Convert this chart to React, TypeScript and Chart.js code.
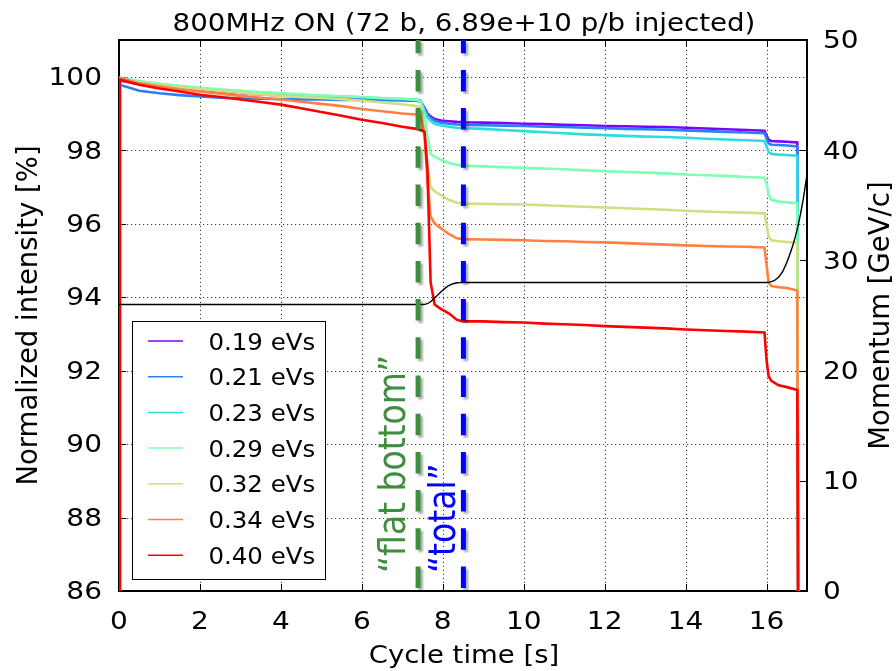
import React, { useEffect, useRef } from 'react';
import { Chart, registerables } from 'chart.js';

Chart.register(...registerables);

// ---------- text ----------
const chartTitle = '800MHz ON (72 b, 6.89e+10 p/b injected)';
const xAxisTitle = 'Cycle time [s]';
const yAxisTitle = 'Normalized intensity [%]';
const y2AxisTitle = 'Momentum [GeV/c]';
const flatBottomLabel = '\u201Cflat bottom\u201D';
const totalLabel = '\u201Ctotal\u201D';

// ---------- ticks ----------
const xTicks = [0, 2, 4, 6, 8, 10, 12, 14, 16];
const yTicks = [86, 88, 90, 92, 94, 96, 98, 100];
const y2Ticks = [0, 10, 20, 30, 40, 50];

// ---------- series ----------
const seriesLabels = ['0.19 eVs', '0.21 eVs', '0.23 eVs', '0.29 eVs', '0.32 eVs', '0.34 eVs', '0.40 eVs'];
const seriesColors = ['#8000ff', '#2a80f6', '#2addde', '#80ffb4', '#d4dd80', '#ff8042', '#ff0000'];

const times = [
  0, 0.02, 0.5, 1, 1.5, 2, 2.5, 3, 3.5, 4, 4.5, 5, 5.5, 6, 6.5, 7,
  7.35, 7.45, 7.55, 7.62, 7.7, 7.8, 7.95, 8.15, 8.35, 8.5,
  9, 9.5, 10, 10.5, 11, 11.5, 12, 12.5, 13, 13.5, 14, 14.5, 15, 15.5,
  15.95, 16.0, 16.05, 16.12, 16.3, 16.5, 16.76, 16.78,
];

const int019 = [86, 99.9, 99.8, 99.74, 99.68, 99.63, 99.59, 99.55, 99.52, 99.49, 99.46, 99.44, 99.42, 99.4, 99.38, 99.36,
  99.35, 99.33, 99.15, 99.0, 98.92, 98.85, 98.81, 98.79, 98.77, 98.76,
  98.75, 98.74, 98.72, 98.71, 98.69, 98.68, 98.66, 98.65, 98.64, 98.63, 98.61, 98.59, 98.57, 98.55,
  98.53, 98.4, 98.28, 98.25, 98.24, 98.23, 98.21, 86];
const int021 = [86, 99.78, 99.62, 99.55, 99.5, 99.46, 99.43, 99.41, 99.4, 99.39, 99.38, 99.38, 99.37, 99.37, 99.36, 99.36,
  99.35, 99.33, 99.12, 98.97, 98.88, 98.8, 98.75, 98.72, 98.7, 98.69,
  98.68, 98.67, 98.66, 98.64, 98.63, 98.61, 98.6, 98.58, 98.57, 98.56, 98.54, 98.52, 98.5, 98.48,
  98.46, 98.32, 98.19, 98.15, 98.14, 98.13, 98.1, 86];
const int023 = [86, 99.95, 99.86, 99.8, 99.74, 99.68, 99.64, 99.6, 99.57, 99.53, 99.5, 99.48, 99.46, 99.44, 99.41, 99.39,
  99.38, 99.36, 99.08, 98.9, 98.8, 98.72, 98.67, 98.64, 98.61, 98.6,
  98.58, 98.55, 98.52, 98.49, 98.46, 98.43, 98.41, 98.39, 98.37, 98.36, 98.34, 98.31, 98.29, 98.27,
  98.25, 98.1, 97.95, 97.9, 97.88, 97.87, 97.85, 86];
const int029 = [86, 99.97, 99.88, 99.81, 99.75, 99.7, 99.66, 99.62, 99.58, 99.55, 99.52, 99.49, 99.47, 99.45, 99.42, 99.4,
  99.37, 99.34, 98.95, 98.4, 97.9, 97.82, 97.74, 97.66, 97.6, 97.58,
  97.56, 97.54, 97.52, 97.5, 97.48, 97.45, 97.43, 97.41, 97.39, 97.37, 97.34, 97.32, 97.3, 97.27,
  97.25, 97.1, 96.8, 96.65, 96.6, 96.58, 96.55, 86];
const int032 = [86, 99.93, 99.84, 99.77, 99.71, 99.66, 99.61, 99.56, 99.52, 99.48, 99.45, 99.42, 99.39, 99.35, 99.3, 99.25,
  99.2, 99.17, 98.5, 97.6, 97.0, 96.88, 96.78, 96.65, 96.57, 96.55,
  96.54, 96.53, 96.52, 96.5, 96.48, 96.46, 96.44, 96.42, 96.4, 96.38, 96.35, 96.33, 96.31, 96.3,
  96.28, 96.0, 95.65, 95.55, 95.52, 95.5, 95.48, 86];
const int034 = [86, 99.97, 99.82, 99.74, 99.66, 99.6, 99.54, 99.48, 99.43, 99.38, 99.32, 99.26, 99.2, 99.12, 99.06, 99.0,
  98.97, 98.95, 98.4, 97.2, 96.2, 96.0, 95.88, 95.72, 95.6, 95.58,
  95.57, 95.56, 95.55, 95.53, 95.52, 95.5, 95.49, 95.47, 95.45, 95.43, 95.41, 95.39, 95.38, 95.37,
  95.35, 94.9, 94.4, 94.3, 94.27, 94.25, 94.18, 86];
const int040 = [86, 99.92, 99.78, 99.68, 99.6, 99.51, 99.45, 99.38, 99.31, 99.24, 99.14, 99.04, 98.94, 98.83, 98.74, 98.64,
  98.58, 98.56, 98.5, 97.5, 94.4, 93.8, 93.68, 93.56, 93.38, 93.34,
  93.34, 93.32, 93.31, 93.28, 93.26, 93.24, 93.21, 93.19, 93.17, 93.15, 93.12, 93.1, 93.08, 93.06,
  93.04, 92.3, 91.85, 91.72, 91.6, 91.55, 91.47, 86];

const intensitySeries = [int019, int021, int023, int029, int032, int034, int040];

const momTimes = [0, 7.5, 7.6, 7.7, 7.8, 7.9, 8.0, 8.1, 8.2, 8.3, 8.4, 8.5, 16.0, 16.1, 16.2, 16.3, 16.4, 16.5, 16.6, 16.7, 16.8, 16.9, 17.0];
const momentum = [26, 26, 26.05, 26.25, 26.6, 26.95, 27.3, 27.6, 27.8, 27.93, 27.98, 28, 28, 28.05, 28.2, 28.5, 29.0, 29.8, 30.8, 32.0, 33.5, 35.4, 37.8];

const flatBottomTime = 7.39;
const totalTime = 8.51;

// ---------- style ----------
const FONT = '"DejaVu Sans", "Liberation Sans", sans-serif';
const GREEN = '#3f8d3f';
const BLUE = '#0000ff';

function drawText(
  ctx: CanvasRenderingContext2D, s: string, x: number, y: number, size: number,
  color: string, align: CanvasTextAlign, sx: number, rotate = false,
) {
  ctx.save();
  ctx.translate(x, y);
  ctx.scale(sx, 1);
  if (rotate) ctx.rotate(-Math.PI / 2);
  ctx.font = `${size}px ${FONT}`;
  ctx.fillStyle = color;
  ctx.textAlign = align;
  ctx.textBaseline = 'alphabetic';
  ctx.fillText(s, 0, 0);
  ctx.restore();
}

const decorPlugin = {
  id: 'decor',
  beforeDatasetsDraw(chart: any) {
    const { ctx, chartArea: a, scales } = chart;
    const xs = scales.x, ys = scales.y, y2 = scales.y2;
    ctx.save();
    // grid
    ctx.strokeStyle = 'rgba(0,0,0,0.75)';
    ctx.lineWidth = 1;
    ctx.setLineDash([1.2, 2.8]);
    xTicks.forEach((v) => {
      const px = Math.round(xs.getPixelForValue(v)) + 0.5;
      if (px <= a.left + 1 || px >= a.right - 1) return;
      ctx.beginPath(); ctx.moveTo(px, a.bottom); ctx.lineTo(px, a.top); ctx.stroke();
    });
    yTicks.forEach((v) => {
      const py = Math.round(ys.getPixelForValue(v)) + 0.5;
      if (py <= a.top + 1 || py >= a.bottom - 1) return;
      ctx.beginPath(); ctx.moveTo(a.left, py); ctx.lineTo(a.right, py); ctx.stroke();
    });
    ctx.setLineDash([]);
    // frame
    ctx.strokeStyle = '#000';
    ctx.lineWidth = 2;
    ctx.strokeRect(a.left, a.top, a.right - a.left, a.bottom - a.top);
    // inward ticks
    ctx.lineWidth = 1;
    const tl = 7;
    ctx.beginPath();
    xTicks.forEach((v) => {
      const px = Math.round(xs.getPixelForValue(v)) + 0.5;
      ctx.moveTo(px, a.bottom); ctx.lineTo(px, a.bottom - tl);
      ctx.moveTo(px, a.top); ctx.lineTo(px, a.top + tl);
    });
    yTicks.forEach((v) => {
      const py = Math.round(ys.getPixelForValue(v)) + 0.5;
      ctx.moveTo(a.left, py); ctx.lineTo(a.left + tl, py);
    });
    y2Ticks.forEach((v) => {
      const py = Math.round(y2.getPixelForValue(v)) + 0.5;
      ctx.moveTo(a.right, py); ctx.lineTo(a.right - tl, py);
    });
    ctx.stroke();
    ctx.restore();
  },
  afterDatasetsDraw(chart: any) {
    const { ctx, chartArea: a, scales } = chart;
    const xs = scales.x;
    ctx.save();
    // vertical dashed markers
    const markers: [number, string][] = [[flatBottomTime, GREEN], [totalTime, BLUE]];
    markers.forEach(([t, c]) => {
      const px = xs.getPixelForValue(t);
      ctx.save();
      ctx.shadowColor = 'rgba(0,0,0,0.3)';
      ctx.shadowBlur = 2;
      ctx.shadowOffsetX = 2.5;
      ctx.shadowOffsetY = 2.5;
      ctx.strokeStyle = c;
      ctx.lineWidth = 5;
      ctx.lineCap = 'butt';
      ctx.setLineDash([21.5, 16.7]);
      ctx.lineDashOffset = 35.2;
      ctx.beginPath(); ctx.moveTo(px, a.bottom); ctx.lineTo(px, a.top); ctx.stroke();
      ctx.restore();
    });
    // annotation texts
    drawText(ctx, flatBottomLabel, 405, 573, 33, GREEN, 'left', 1.12, true);
    drawText(ctx, totalLabel, 455, 573, 33, BLUE, 'left', 1.12, true);
    // legend
    const lx = 132.5, ly = 321.5, lw = 193, lh = 258;
    ctx.fillStyle = '#fff';
    ctx.fillRect(lx, ly, lw, lh);
    ctx.strokeStyle = '#000';
    ctx.lineWidth = 1;
    ctx.strokeRect(lx, ly, lw, lh);
    seriesLabels.forEach((lab, i) => {
      const ry = 341 + i * 35.7;
      ctx.strokeStyle = seriesColors[i];
      ctx.lineWidth = 1.5;
      ctx.beginPath(); ctx.moveTo(148, ry); ctx.lineTo(183, ry); ctx.stroke();
      drawText(ctx, lab, 208.5, ry + 8.6, 23.5, '#000', 'left', 1.04);
    });
    ctx.restore();
  },
  afterDraw(chart: any) {
    const { ctx, chartArea: a, scales } = chart;
    const xs = scales.x, ys = scales.y, y2 = scales.y2;
    const cx = (a.left + a.right) / 2 + 1;
    drawText(ctx, chartTitle, cx, 31, 24.5, '#000', 'center', 1.13);
    xTicks.forEach((v) => drawText(ctx, String(v), xs.getPixelForValue(v), a.bottom + 38, 25, '#000', 'center', 1.12));
    yTicks.forEach((v) => drawText(ctx, String(v), a.left - 17, ys.getPixelForValue(v) + 8.3, 25, '#000', 'right', 1.12));
    y2Ticks.forEach((v) => drawText(ctx, String(v), a.right + 16, y2.getPixelForValue(v) + 8.3, 25, '#000', 'left', 1.12));
    drawText(ctx, xAxisTitle, cx, 663, 25, '#000', 'center', 1.1);
    const cy = (a.top + a.bottom) / 2;
    drawText(ctx, yAxisTitle, 37, cy, 27.5, '#000', 'center', 1.05, true);
    drawText(ctx, y2AxisTitle, 889, cy, 27.5, '#000', 'center', 1.05, true);
  },
};

export default function App() {
  const canvasRef = useRef<HTMLCanvasElement | null>(null);

  useEffect(() => {
    const canvas = canvasRef.current;
    if (!canvas) return;
    const datasets: any[] = intensitySeries.map((vals, i) => ({
      label: seriesLabels[i],
      data: times.map((t, j) => ({ x: t, y: vals[j] })),
      borderColor: seriesColors[i],
      backgroundColor: seriesColors[i],
      borderWidth: 2.6,
      pointRadius: 0,
      tension: 0,
      yAxisID: 'y',
      order: seriesLabels.length - i,
    }));
    datasets.push({
      label: 'Momentum',
      data: momTimes.map((t, j) => ({ x: t, y: momentum[j] })),
      borderColor: '#000',
      backgroundColor: '#000',
      borderWidth: 1.4,
      pointRadius: 0,
      cubicInterpolationMode: 'monotone',
      yAxisID: 'y2',
      order: 0,
    });
    const chart = new Chart(canvas, {
      type: 'line',
      data: { datasets },
      options: {
        animation: false,
        responsive: false,
        devicePixelRatio: 1,
        events: [],
        layout: { padding: { left: 119, right: 89, top: 40, bottom: 80 } },
        plugins: {
          legend: { display: false },
          tooltip: { enabled: false },
          title: { display: false },
        },
        scales: {
          x: { type: 'linear', min: 0, max: 17, display: false },
          y: { type: 'linear', position: 'left', min: 86, max: 101, display: false },
          y2: { type: 'linear', position: 'right', min: 0, max: 50, display: false },
        },
      },
      plugins: [decorPlugin],
    });
    return () => chart.destroy();
  }, []);

  return (
    <div style={{ position: 'fixed', left: 0, top: 0, width: 896, height: 671, background: '#fff' }}>
      <canvas ref={canvasRef} width={896} height={671} style={{ display: 'block', width: 896, height: 671 }} />
    </div>
  );
}
